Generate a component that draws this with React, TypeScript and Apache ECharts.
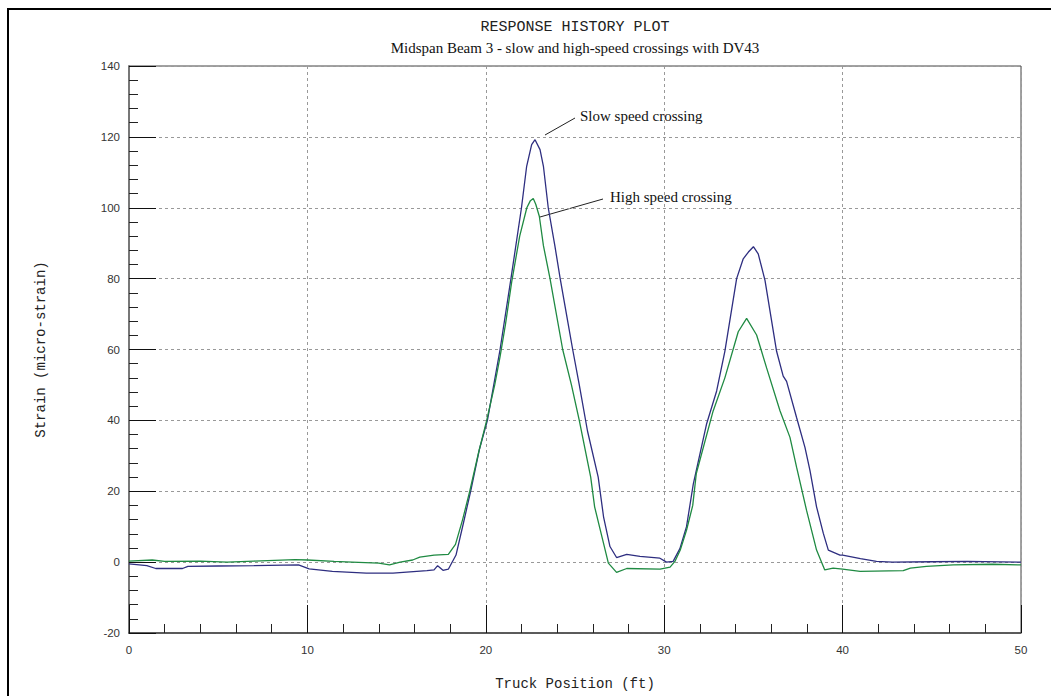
import React, { useEffect, useRef } from "react";
import * as echarts from "echarts";

// Slow speed crossing (navy)
const slowX = [0, 1, 1.5, 2, 3, 3.3, 5, 7, 9.5, 10.1, 11.4, 13.3, 14.8, 16.7, 17.1, 17.3, 17.6, 17.9, 18.33, 18.74, 19.15, 19.65, 20.09, 20.8, 21.41, 22.0, 22.29, 22.57, 22.76, 23.04, 23.23, 23.5, 23.87, 24.17, 24.53, 24.87, 25.24, 25.7, 26.3, 26.6, 26.96, 27.33, 27.9, 28.64, 29.76, 30.13, 30.5, 30.88, 31.25, 31.63, 32.37, 32.94, 33.4, 34.06, 34.43, 34.72, 35.0, 35.27, 35.65, 36.3, 36.67, 36.86, 37.42, 37.89, 38.17, 38.54, 38.92, 39.2, 39.85, 40.0, 41.0, 41.9, 42.8, 45, 47, 50];
const slowY = [-0.5, -1, -1.8, -1.8, -1.8, -1.2, -1.1, -1, -0.8, -1.9, -2.6, -3.1, -3.1, -2.4, -2.2, -1.0, -2.3, -2.0, 2, 10.9, 20, 32, 40, 60, 80, 100, 111.7, 117.8, 119.2, 116.4, 111.7, 100, 89.3, 80, 69.7, 60, 50, 37, 24, 12.8, 4.4, 1.3, 2.2, 1.6, 1.1, 0, 0.2, 3.8, 10, 22, 38.9, 48.3, 59.5, 80, 85.6, 87.5, 89, 87, 79.5, 59.5, 52.5, 51, 40.8, 32.4, 25.9, 15.6, 8.1, 3.4, 2.0, 2.0, 1.0, 0.2, 0, 0.1, 0.2, 0];

// High speed crossing (green)
const highX = [0, 1.3, 2, 4, 5.5, 7, 9.3, 10, 11.5, 12.5, 14, 14.6, 15.2, 15.9, 16.3, 17.1, 17.9, 18.3, 18.7, 19.1, 19.6, 20.05, 20.5, 20.8, 21.1, 21.45, 21.9, 22.3, 22.5, 22.66, 22.8, 23.0, 23.23, 23.6, 24.31, 24.8, 25.24, 25.6, 25.88, 26.1, 26.6, 26.87, 27.33, 27.9, 29.77, 30.33, 30.6, 30.9, 31.25, 31.6, 31.8, 32.74, 33.4, 34.15, 34.62, 35.18, 35.74, 36.49, 37.05, 37.42, 37.98, 38.54, 39.0, 39.47, 40.0, 40.98, 43.4, 43.8, 44.7, 46.2, 48.4, 50];
const highY = [0.3, 0.6, 0.2, 0.3, 0, 0.3, 0.7, 0.6, 0.2, 0, -0.3, -0.8, 0, 0.6, 1.4, 2.0, 2.2, 5, 12, 20, 31, 40, 50, 58, 67, 79, 92, 100, 102, 102.6, 101, 97.6, 89.3, 80, 60, 50, 40, 31, 24, 15.6, 5.3, -0.3, -2.9, -1.8, -2.0, -1.4, 0.2, 3.4, 9, 16, 25, 42.6, 52, 65, 68.8, 64.1, 54.8, 42.7, 35.2, 26.8, 14.6, 3.4, -2.2, -1.7, -2.0, -2.6, -2.4, -1.7, -1.2, -0.8, -0.6, -0.8];

const xTicks = [0, 10, 20, 30, 40, 50];
const yTicks = [-20, 0, 20, 40, 60, 80, 100, 120, 140];

const titleText = "RESPONSE HISTORY PLOT";
const subtitleText = "Midspan Beam 3 - slow and high-speed crossings with DV43";
const xName = "Truck Position (ft)";
const yName = "Strain (micro-strain)";
const slowLabel = "Slow speed crossing";
const highLabel = "High speed crossing";

const MONO = "'Courier New', 'Liberation Mono', monospace";
const SERIF = "'Times New Roman', 'Liberation Serif', serif";
const SANS = "Arial, 'Liberation Sans', sans-serif";

export default function App() {
  const ref = useRef<HTMLDivElement>(null);
  useEffect(() => {
    document.body.style.margin = "0";
    if (!ref.current) return;
    const chart = echarts.init(ref.current, null, { renderer: "svg" });
    const zip = (xs: number[], ys: number[]) => xs.map((x, i) => [x, ys[i]]);
    chart.setOption({
      animation: false,
      backgroundColor: "#ffffff",
      title: [
        {
          text: titleText,
          left: 570,
          top: 15,
          textAlign: "center",
          textStyle: { fontFamily: MONO, fontSize: 15, fontWeight: "normal", color: "#222" },
        },
        {
          text: subtitleText,
          left: 570,
          top: 35,
          textAlign: "center",
          textStyle: { fontFamily: SERIF, fontSize: 15, fontWeight: "normal", color: "#111" },
        },
      ],
      grid: {
        left: 129,
        right: 30,
        top: 66,
        bottom: 59,
        show: true,
        borderColor: "#444",
        borderWidth: 1,
      },
      xAxis: {
        type: "value",
        min: xTicks[0],
        max: xTicks[xTicks.length - 1],
        interval: 10,
        name: xName,
        nameLocation: "middle",
        nameGap: 44,
        nameTextStyle: { fontFamily: MONO, fontSize: 14, color: "#222" },
        axisLine: { show: true, onZero: false, lineStyle: { color: "#444", width: 1.5 } },
        axisTick: { show: true, inside: true, length: 28, lineStyle: { color: "#111", width: 1 } },
        minorTick: { show: true, splitNumber: 5, length: 9, lineStyle: { color: "#222", width: 1 } },
        splitLine: { show: true, lineStyle: { color: "#999", type: [3, 3], width: 1 } },
        axisLabel: { fontFamily: SANS, fontSize: 11.5, color: "#333", margin: 11 },
      },
      yAxis: {
        type: "value",
        min: yTicks[0],
        max: yTicks[yTicks.length - 1],
        interval: 20,
        name: yName,
        nameLocation: "middle",
        nameRotate: 90,
        nameGap: 81,
        nameTextStyle: { fontFamily: MONO, fontSize: 14, color: "#222" },
        axisLine: { show: true, onZero: false, lineStyle: { color: "#777", width: 2 } },
        axisTick: { show: true, inside: true, length: 27, lineStyle: { color: "#111", width: 1 } },
        minorTick: { show: true, splitNumber: 5, length: 9, lineStyle: { color: "#222", width: 1 } },
        splitLine: { show: true, lineStyle: { color: "#999", type: [3, 3], width: 1 } },
        axisLabel: { fontFamily: SANS, fontSize: 11.5, color: "#333", margin: 9 },
      },
      series: [
        {
          name: slowLabel,
          type: "line",
          data: zip(slowX, slowY),
          showSymbol: false,
          lineStyle: { color: "#2e2e80", width: 1.3 },
          itemStyle: { color: "#2e2e80" },
          z: 3,
        },
        {
          name: highLabel,
          type: "line",
          data: zip(highX, highY),
          showSymbol: false,
          lineStyle: { color: "#1f8a42", width: 1.3 },
          itemStyle: { color: "#1f8a42" },
          z: 4,
        },
      ],
      graphic: [
        {
          type: "rect",
          shape: { x: 8, y: 9, width: 1200, height: 900 },
          style: { fill: "none", stroke: "#000", lineWidth: 2 },
          silent: true,
        },
        {
          type: "line",
          shape: { x1: 545, y1: 135, x2: 575, y2: 118 },
          style: { stroke: "#222", lineWidth: 1 },
        },
        {
          type: "text",
          x: 580,
          y: 116,
          style: { text: slowLabel, font: `15px ${SERIF}`, fill: "#111", textVerticalAlign: "middle", verticalAlign: "middle" },
        },
        {
          type: "line",
          shape: { x1: 540, y1: 217, x2: 603, y2: 199 },
          style: { stroke: "#222", lineWidth: 1 },
        },
        {
          type: "text",
          x: 610,
          y: 197,
          style: { text: highLabel, font: `15px ${SERIF}`, fill: "#111", textVerticalAlign: "middle", verticalAlign: "middle" },
        },
      ],
    });
    return () => chart.dispose();
  }, []);
  return <div ref={ref} style={{ position: "fixed", left: 0, top: 0, width: 1051, height: 696 }} />;
}
